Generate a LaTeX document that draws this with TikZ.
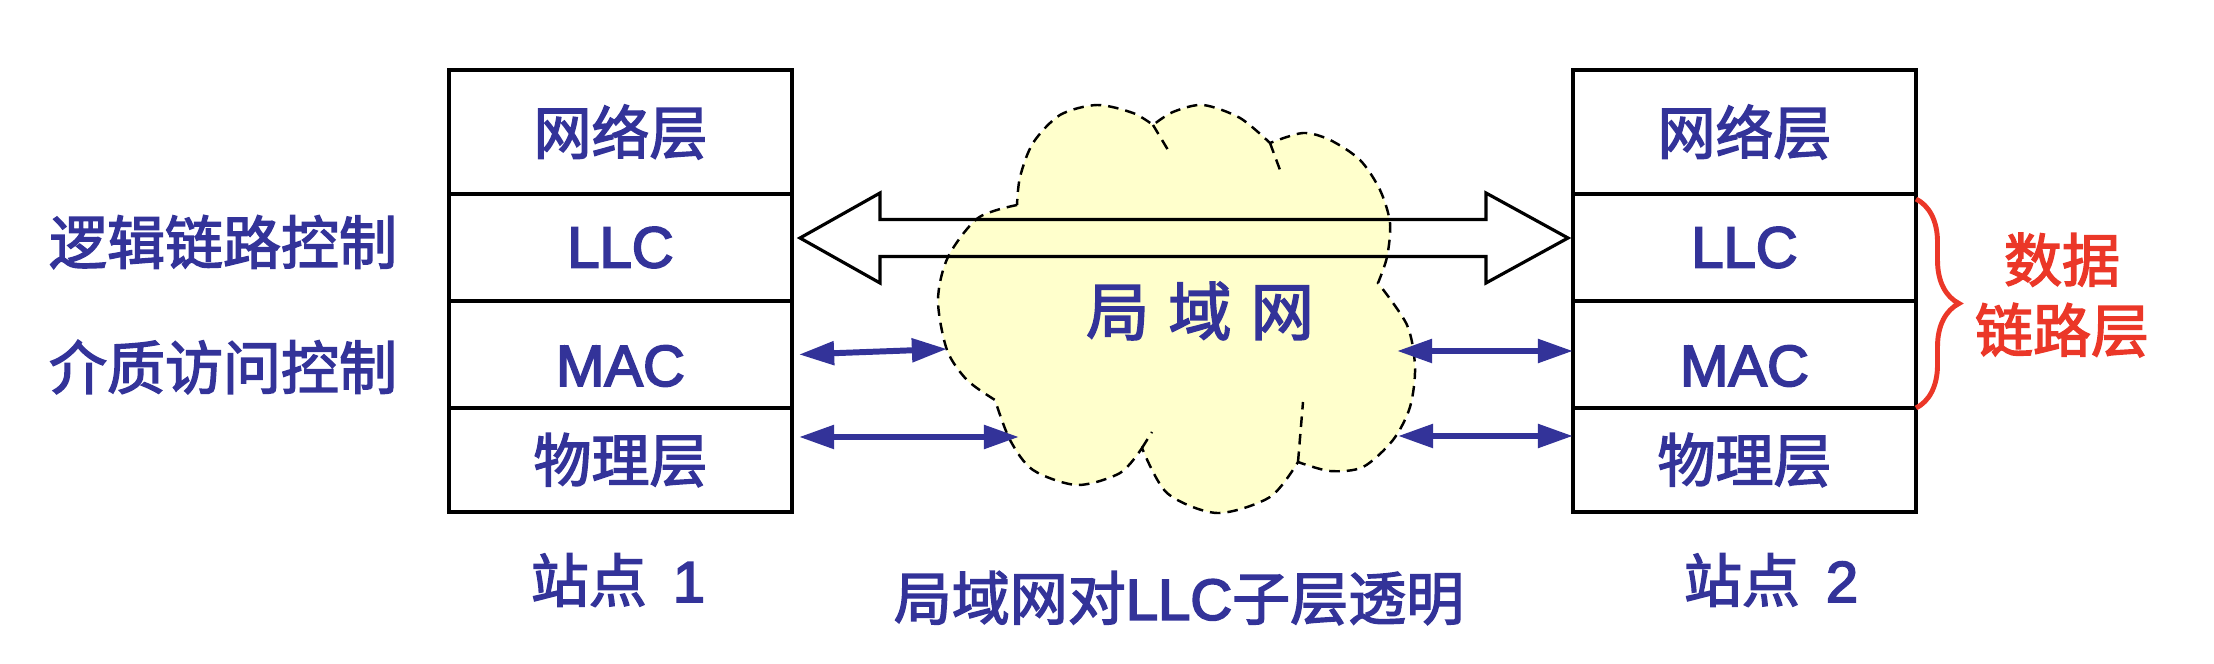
\documentclass[tikz,border=0pt]{standalone}
\usepackage{fontspec}
\setmainfont{Liberation Sans}[FakeBold=3]
\newfontfamily\cjk{Noto Sans CJK SC}[FakeBold=2.5]
\usepackage{tikz}
\usetikzlibrary{positioning,calc,arrows.meta,decorations.pathreplacing}
\definecolor{lanblue}{RGB}{51,51,153}
\definecolor{lanred}{RGB}{235,55,40}
\definecolor{cloudyellow}{RGB}{255,255,204}

\begin{document}
\begin{tikzpicture}[
  layer/.style={draw=black, line width=0.9pt, outer sep=0pt, inner sep=0pt, minimum width=3.43cm, text=lanblue, font=\fontsize{16.5}{20}\selectfont},
  txt/.style={text=lanblue, inner sep=0pt, font=\fontsize{16.5}{20}\selectfont},
  biarrow/.style={lanblue, line width=1.7pt, {Triangle[length=10pt,width=6.5pt]}-{Triangle[length=10pt,width=6.5pt]}},
  cloudline/.style={black, line width=0.7pt, dash pattern=on 3pt off 2pt}]
\useasboundingbox (0,0) rectangle (22.14,6.64);

% the LAN cloud
\filldraw[cloudline, fill=cloudyellow]
  plot[smooth] coordinates {(10.17,4.59) (9.78,4.46) (9.48,4.07) (9.38,3.64) (9.47,3.14) (9.67,2.84) (9.95,2.64)}
  -- plot[smooth] coordinates {(9.95,2.64) (10.10,2.24) (10.33,1.94) (10.77,1.79) (11.20,1.91) (11.42,2.16)}
  -- plot[smooth] coordinates {(11.42,2.16) (11.67,1.71) (12.17,1.51) (12.70,1.67) (12.98,2.02)}
  -- plot[smooth] coordinates {(12.98,2.02) (13.30,1.93) (13.63,1.97) (13.93,2.24) (14.10,2.57) (14.15,2.97) (14.07,3.39) (13.78,3.81)}
  -- plot[smooth] coordinates {(13.78,3.81) (13.87,4.07) (13.90,4.41) (13.80,4.74) (13.60,5.04) (13.30,5.24) (13.03,5.31) (12.70,5.21)}
  -- plot[smooth] coordinates {(12.70,5.21) (12.40,5.46) (12.03,5.59) (11.73,5.52) (11.53,5.39)}
  -- plot[smooth] coordinates {(11.53,5.39) (11.33,5.51) (10.97,5.59) (10.60,5.49) (10.33,5.21) (10.20,4.87) (10.17,4.59)}
  -- cycle;
\draw[cloudline] (11.53,5.39) -- (11.68,5.14);
\draw[cloudline] (12.70,5.21) -- (12.80,4.94);
\draw[cloudline] (11.42,2.16) -- (11.52,2.32);
\draw[cloudline] (12.98,2.02) -- (13.03,2.62);
\node[txt, font=\cjk\fontsize{18}{22}\selectfont] (lan) at (12.00,3.53) {局\hspace{0.3em}域\hspace{0.3em}网};

% station 1
\node[layer, minimum height=1.24cm, anchor=north west] (net1) at (4.49,5.94) {{\cjk 网络层}};
\node[layer, minimum height=1.07cm, below=0pt of net1] (llc1) {LLC};
\node[layer, minimum height=1.07cm, below=0pt of llc1] (mac1) {};
\node[layer, minimum height=1.04cm, below=0pt of mac1] (phy1) {{\cjk 物理层}};
\node[txt] (macname1) at ([yshift=-0.115cm]mac1.center) {MAC};

% station 2
\node[layer, minimum height=1.24cm, anchor=north west] (net2) at (15.73,5.94) {{\cjk 网络层}};
\node[layer, minimum height=1.07cm, below=0pt of net2] (llc2) {LLC};
\node[layer, minimum height=1.07cm, below=0pt of llc2] (mac2) {};
\node[layer, minimum height=1.04cm, below=0pt of mac2] (phy2) {{\cjk 物理层}};
\node[txt] (macname2) at ([yshift=-0.115cm]mac2.center) {MAC};

% side labels
\node[txt] (llctxt) at (2.23,4.22) {\cjk 逻辑链路控制};
\node[txt] (mactxt) at (2.23,2.97) {\cjk 介质访问控制};
\node[txt, text=lanred, align=center] (dll) at (20.62,3.69) {{\cjk 数据}\\{\cjk 链路层}};
\draw[lanred, line width=1.4pt, decorate, decoration={brace, amplitude=0.43cm}]
  ([yshift=-0.05cm]llc2.north east) -- (mac2.south east);

% hollow arrow between the LLC layers
\coordinate (tipL) at ([xshift=0.08cm,yshift=0.095cm]llc1.east);
\coordinate (tipR) at ([xshift=-0.05cm]llc2.west |- tipL);
\draw[line width=0.9pt] (tipL) -- ++(0.80,0.45) -- ++(0,-0.265) -- ($(tipR)+(-0.82,0.185)$)
  -- ++(0,0.265) -- (tipR) -- ++(-0.82,-0.45) -- ++(0,0.265) -- ($(tipL)+(0.80,-0.185)$)
  -- ++(0,-0.265) -- cycle;

% links into the LAN
\coordinate (cmacL) at (9.47,3.15);
\coordinate (cphyL) at (10.19,2.27);
\coordinate (cmacR) at (13.97,3.13);
\coordinate (cphyR) at (13.98,2.28);
\draw[biarrow] ([xshift=0.07cm]mac1.east) -- (cmacL);
\draw[biarrow] ([xshift=0.07cm]phy1.east |- cphyL) -- (cphyL);
\draw[biarrow] (cmacR) -- (mac2.west |- cmacR);
\draw[biarrow] (cphyR) -- (phy2.west |- cphyR);

% captions
\node[txt] (st1) at (6.18,0.84) {{\cjk 站点}\hspace{0.45em}1};
\node[txt] (st2) at (17.71,0.84) {{\cjk 站点}\hspace{0.45em}2};
\node[txt] (note) at (11.79,0.66) {{\cjk 局域网对}LLC{\cjk 子层透明}};
\end{tikzpicture}
\end{document}
